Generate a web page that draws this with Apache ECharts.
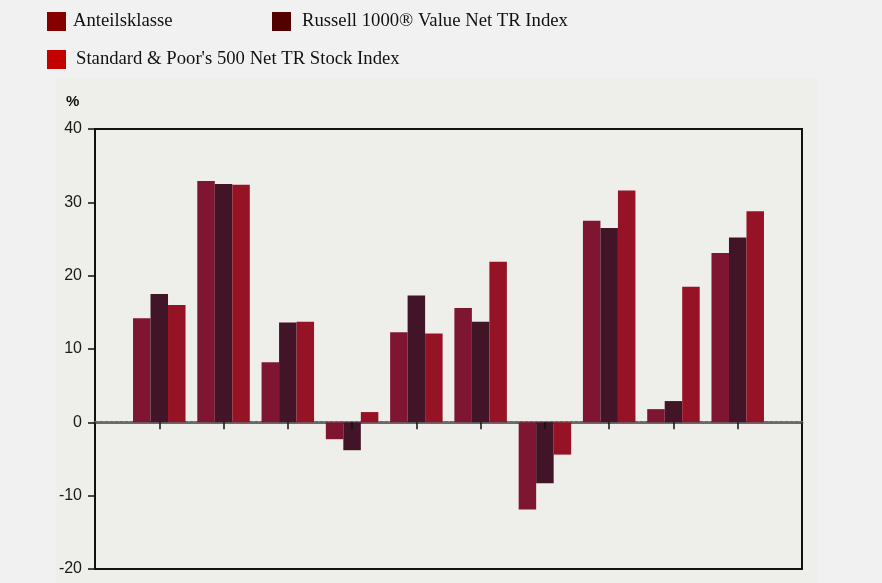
<!DOCTYPE html>
<html>
<head>
<meta charset="utf-8">
<script src="https://cdn.jsdelivr.net/npm/echarts@6/dist/echarts.min.js"></script>
<style>
  html, body { margin: 0; padding: 0; background: #f1f1f1; }
  #chart { width: 882px; height: 583px; }
</style>
</head>
<body>
<div id="chart"></div>
<script>
// Calendar-year returns in percent
const years = ['2012', '2013', '2014', '2015', '2016', '2017', '2018', '2019', '2020', '2021'];
const anteilsklasse = [14.2, 32.9, 8.2, -2.3, 12.3, 15.6, -11.9, 27.5, 1.8, 23.1];
const russell1000Value = [17.5, 32.5, 13.6, -3.8, 17.3, 13.7, -8.3, 26.5, 2.9, 25.2];
const sp500 = [16.0, 32.4, 13.7, 1.4, 12.1, 21.9, -4.4, 31.6, 18.5, 28.8];

const seriesNames = ['Anteilsklasse', 'Russell 1000® Value Net TR Index', "Standard & Poor's 500 Net TR Stock Index"];
const yMin = -20, yMax = 40, yStep = 10;

// Empty slots at both ends keep the year positions inside the frame
const slots = [''].concat(years, ['']);
const pad = arr => ['-'].concat(arr, ['-']);

const barColors = ['#7f1631', '#411428', '#951325'];
const legendColors = ['#870000', '#530000', '#c30000'];

const legendText = { fontFamily: 'Liberation Serif', fontSize: 18.7, color: '#111' };
function legendAt(i, left, top, gap) {
  return {
    left: left, top: top, padding: 0,
    itemWidth: 19, itemHeight: 19,
    selectedMode: false,
    textStyle: Object.assign({ padding: [0, 0, 0, gap] }, legendText),
    data: [{ name: seriesNames[i], icon: 'rect', itemStyle: { color: legendColors[i] } }]
  };
}

const chart = echarts.init(document.getElementById('chart'), null, { renderer: 'canvas' });

chart.setOption({
  backgroundColor: '#f1f1f1',
  animation: false,
  graphic: [
    { type: 'rect', z: -10, shape: { x: 56.5, y: 78.5, width: 761, height: 505 }, style: { fill: '#eeeeea' } },
    { type: 'text', x: 66, y: 102, style: { text: '%', font: 'bold 15px "Liberation Sans", Arial, sans-serif', fill: '#111', textVerticalAlign: 'middle' } }
  ],
  legend: [
    legendAt(0, 47, 12, 2),
    legendAt(1, 272, 12, 6),
    legendAt(2, 47, 50, 5)
  ],
  grid: {
    left: 95, right: 80, top: 129, bottom: 14,
    show: true, borderColor: '#111', borderWidth: 2, backgroundColor: 'transparent'
  },
  xAxis: [
    {
      // dotted zero line, beneath the bars
      type: 'category', data: slots, boundaryGap: false, position: 'bottom',
      axisLine: { onZero: true, onZeroAxisIndex: 0, lineStyle: { color: '#6a6a6a', width: 3, type: [3, 2] } },
      axisTick: { show: false },
      axisLabel: { show: false },
      splitLine: { show: false },
      z: 0
    },
    {
      // year ticks hanging from the zero line, above the bars
      type: 'category', data: slots, boundaryGap: false, position: 'bottom',
      axisLine: { show: false, onZero: true, onZeroAxisIndex: 1 },
      axisTick: { show: true, inside: false, length: 7, lineStyle: { color: '#111', width: 1.5 } },
      axisLabel: { show: false },
      splitLine: { show: false },
      z: 10
    }
  ],
  yAxis: [
    {
      type: 'value', min: yMin, max: yMax, interval: yStep,
      axisLine: { show: true, lineStyle: { color: '#111', width: 2 } },
      axisTick: { show: true, length: 7, lineStyle: { color: '#111', width: 1.5 } },
      axisLabel: { margin: 13, fontFamily: 'Liberation Sans', fontSize: 16, color: '#1a1a1a' },
      splitLine: { show: false }
    },
    {
      type: 'value', min: yMin, max: yMax, interval: yStep, show: false,
      splitLine: { show: false }
    }
  ],
  series: [anteilsklasse, russell1000Value, sp500].map((vals, i) => ({
    name: seriesNames[i],
    type: 'bar',
    xAxisIndex: 0,
    yAxisIndex: 0,
    data: pad(vals),
    barWidth: 17.5,
    barGap: '0%',
    itemStyle: { color: barColors[i] },
    z: 2
  }))
});
</script>
</body>
</html>
